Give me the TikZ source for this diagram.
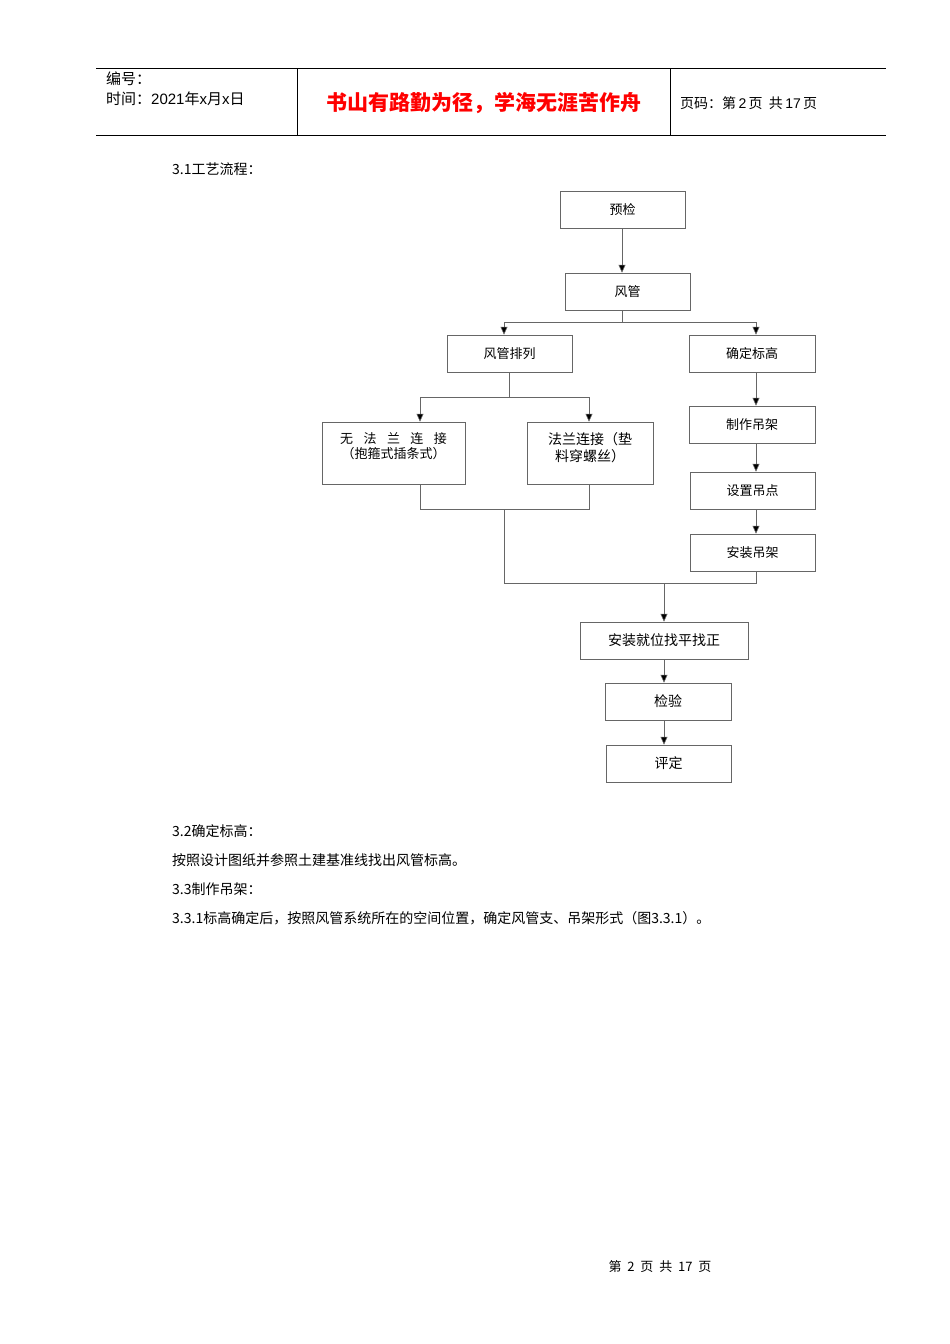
\documentclass[tikz,border=0pt]{standalone}
\usepackage{fontspec}
\setmainfont{Noto Sans CJK SC}
\newfontfamily\lat{Liberation Sans}
\usetikzlibrary{arrows.meta}
\begin{document}
\begin{tikzpicture}[x=1pt,y=-1pt,
  bx/.style={draw=black!60,line width=0.5pt,minimum height=37pt,inner sep=1pt,font=\fontsize{13}{15}\selectfont},
  ln/.style={draw=black!60,line width=0.6pt},
  ar/.style={ln,-{Triangle[length=8pt,width=7pt,fill=black]}},
  tx/.style={anchor=west,inner sep=0pt,font=\fontsize{14}{16}\selectfont}]
\useasboundingbox (0,0) rectangle (950,1344);
% header
\draw[line width=0.6pt] (96,68) -- (886,68) (96,135) -- (886,135) (297,68) -- (297,135) (670,68) -- (670,135);
\node[tx,font=\fontsize{15}{17}\selectfont] (h1) at (106,79) {编号：};
\node[tx,font=\fontsize{15}{17}\selectfont] (h2) at (106,99) {时间：{\lat 2021}年{\lat x}月{\lat x}日};
\node[inner sep=0pt,text=red,font=\bfseries\fontsize{21}{23}\selectfont] (h3) at (484,103) {书山有路勤为径，学海无涯苦作舟};
\node[tx] (h4) at (680,103) {页码：第\,{\lat 2}\,页\ \ 共\,{\lat 17}\,页};
\node[tx] (t0) at (172,169) {3.1工艺流程：};
% boxes
\node[bx,minimum width=125pt] (yj) at (622.5,209.5) {预检};
\node[bx,minimum width=125pt] (fg) at (627.5,291.5) {风管};
\node[bx,minimum width=125pt] (pl) at (509.5,353.5) {风管排列};
\node[bx,minimum width=126pt] (bg) at (752,353.5) {确定标高};
\node[bx,minimum width=143pt,minimum height=62pt] (wf) at (393.5,453) {};
\node[font=\fontsize{13}{15}\selectfont,align=center,inner sep=0pt] (wft) at (393.5,446) {无\hspace{0.8em}法\hspace{0.8em}兰\hspace{0.8em}连\hspace{0.8em}接\\（抱箍式插条式）};
\node[bx,minimum width=126pt,minimum height=62pt] (fl) at (590,453) {};
\node[font=\fontsize{14}{17}\selectfont,align=center,inner sep=0pt] (flt) at (590,448) {法兰连接（垫\\料穿螺丝）};
\node[bx,minimum width=126pt] (zz) at (752,424.5) {制作吊架};
\node[bx,minimum width=125pt] (sd) at (752.5,490.5) {设置吊点};
\node[bx,minimum width=125pt] (az) at (752.5,552.5) {安装吊架};
\node[bx,minimum width=168pt,font=\fontsize{14}{16}\selectfont] (jw) at (664,640.5) {安装就位找平找正};
\node[bx,minimum width=126pt,font=\fontsize{14}{16}\selectfont] (jy) at (668,701.5) {检验};
\node[bx,minimum width=125pt,font=\fontsize{14}{16}\selectfont] (pd) at (668.5,763.5) {评定};
% connectors
\draw[ar] (yj.south -| 622,0) -- (fg.north -| 622,0);
\coordinate (j1) at (622,322);
\draw[ln] (fg.south -| 622,0) -- (j1);
\draw[ar] (j1) -| (pl.north -| 504,0);
\draw[ar] (j1) -| (bg.north -| 756,0);
\coordinate (j2) at (509,397);
\draw[ln] (pl.south -| 509,0) -- (j2);
\draw[ar] (j2) -| (wf.north -| 420,0);
\draw[ar] (j2) -| (fl.north -| 589,0);
\draw[ar] (bg.south -| 756,0) -- (zz.north -| 756,0);
\draw[ar] (zz.south -| 756,0) -- (sd.north -| 756,0);
\draw[ar] (sd.south -| 756,0) -- (az.north -| 756,0);
\coordinate (j3) at (504,509);
\draw[ln] (wf.south -| 420,0) |- (j3);
\draw[ln] (fl.south -| 589,0) |- (j3);
\coordinate (j4) at (664,583);
\draw[ln] (j3) |- (j4);
\draw[ln] (az.south -| 756,0) |- (j4);
\draw[ar] (j4) -- (jw.north -| 664,0);
\draw[ar] (jw.south -| 664,0) -- (jy.north -| 664,0);
\draw[ar] (jy.south -| 664,0) -- (pd.north -| 664,0);
% text
\node[tx] (t1) at (172,831) {3.2确定标高：};
\node[tx] (t2) at (172,860) {按照设计图纸并参照土建基准线找出风管标高。};
\node[tx] (t3) at (172,889) {3.3制作吊架：};
\node[tx] (t4) at (172,918) {3.3.1标高确定后，按照风管系统所在的空间位置，确定风管支、吊架形式（图3.3.1）。};
\node[inner sep=0pt,font=\fontsize{13}{15}\selectfont] (ft) at (660,1267) {第\ \ 2\ \ 页\ \ 共\ \ 17\ \ 页};
\end{tikzpicture}
\end{document}
